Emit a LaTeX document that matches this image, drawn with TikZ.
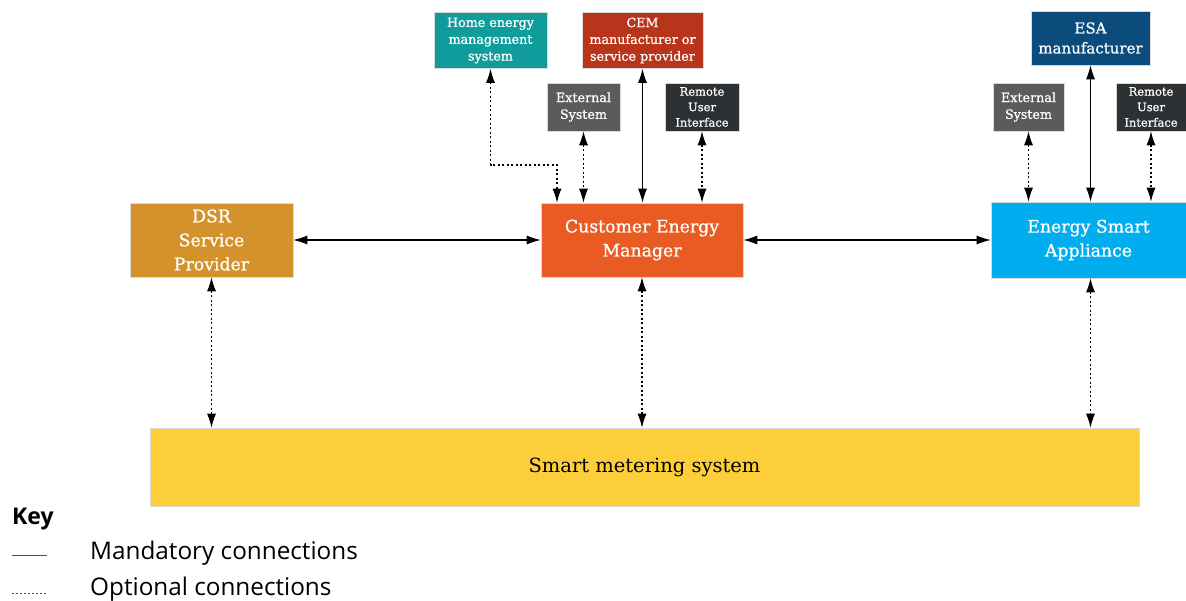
\documentclass[tikz,border=0pt]{standalone}
\usepackage{fontspec}
\setmainfont{DejaVu Serif}[BoldFont={DejaVu Serif},BoldFeatures={FakeBold=0.8}]
\setsansfont{Open Sans}
\usepackage{tikz}
\usetikzlibrary{positioning}
\usetikzlibrary{arrows.meta}
\definecolor{sarcelle}{HTML}{119C9C}
\definecolor{rouille}{HTML}{B8341A}
\definecolor{grisext}{HTML}{5B5B5B}
\definecolor{grisfonce}{HTML}{2E3133}
\definecolor{ocre}{HTML}{D4922C}
\definecolor{orangecem}{HTML}{E85C24}
\definecolor{cyanesa}{HTML}{00AEEF}
\definecolor{bleufab}{HTML}{0B4C7D}
\definecolor{jaunesms}{HTML}{FCCF3A}
\begin{document}
\begin{tikzpicture}[x=1pt,y=-1pt]
% définition des paramètres
\tikzstyle boite=[draw=white!85!black,line width=0.6pt,text=white,align=center,inner sep=2pt]
\tikzstyle petite=[boite,font=\bfseries\fontsize{12.7}{16.8}\selectfont]
\tikzstyle grande=[boite,font=\bfseries\fontsize{17.3}{24}\selectfont]
\tikzstyle plein=[line width=1.1pt,{Latex[length=14pt,width=9pt]}-{Latex[length=14pt,width=9pt]}]
\tikzstyle pointille=[plein,dash pattern=on 2pt off 2.5pt]
\tikzstyle cle=[font=\sffamily\fontsize{24.3}{28}\selectfont,anchor=west,inner sep=0pt]
% le cadre
\useasboundingbox (0,0) rectangle (1186,601);
% les boites du haut
\node[petite,fill=sarcelle,minimum width=113,minimum height=56] (hems) at (490.5,40.5) {Home energy\\management\\system};
\node[petite,fill=rouille,minimum width=121,minimum height=56] (cemfab) at (642.5,40.5) {CEM\\manufacturer or\\service provider};
\node[petite,fill=grisext,minimum width=73,minimum height=48] (extcem) at (583.5,107) {External\\System};
\node[petite,fill=grisfonce,minimum width=74,minimum height=48,font=\bfseries\fontsize{11.5}{15.5}\selectfont] (ruicem) at (702,107) {Remote\\User\\Interface};
\node[boite,fill=bleufab,minimum width=119,minimum height=54,font=\bfseries\fontsize{15}{20}\selectfont] (esafab) at (1090.5,38) {ESA\\manufacturer};
\node[petite,fill=grisext,minimum width=71,minimum height=48] (extesa) at (1028.5,107) {External\\System};
\node[petite,fill=grisfonce,minimum width=70,minimum height=48,font=\bfseries\fontsize{11.5}{15.5}\selectfont] (ruiesa) at (1151,107) {Remote\\User\\Interface};
% les boites du milieu
\node[grande,fill=ocre,minimum width=163,minimum height=74] (dsr) at (211.5,240) {DSR\\Service\\Provider};
\node[grande,fill=orangecem,minimum width=202,minimum height=74] (cem) at (642,240) {Customer Energy\\Manager};
\node[grande,fill=cyanesa,minimum width=195,minimum height=76] (esa) at (1088.5,240) {Energy Smart\\Appliance};
% le compteur
\node[boite,fill=jaunesms,text=black,minimum width=989,minimum height=78,font=\fontsize{19.5}{24}\selectfont] (sms) at (644.5,467) {Smart metering system};
% les liaisons
\draw[plein] (dsr) -- (cem);
\draw[plein] (cem) -- (esa);
\coordinate (coude) at (557,165);
\draw[pointille] (hems.south) |- (coude) -- (coude |- cem.north);
\draw[pointille] (extcem.south) -- (extcem.south |- cem.north);
\draw[plein] (cemfab.south) -- (cemfab.south |- cem.north);
\draw[pointille] (ruicem.south) -- (ruicem.south |- cem.north);
\draw[pointille] (extesa.south) -- (extesa.south |- esa.north);
\draw[plein] (esafab.south) -- (esafab.south |- esa.north);
\draw[pointille] (ruiesa.south) -- (ruiesa.south |- esa.north);
\draw[pointille] (dsr.south) -- (dsr.south |- sms.north);
\draw[pointille] (cem.south) -- (cem.south |- sms.north);
\draw[pointille] (esafab.south |- esa.south) -- (esafab.south |- sms.north);
% la légende
\node[cle,font=\sffamily\bfseries\fontsize{23}{28}\selectfont] (key) at (12,519) {Key};
\coordinate (m1) at (12,555);
\coordinate (m2) at (47,555);
\draw[line width=1pt,black!70] (m1) -- (m2);
\node[cle] (mand) at (90,553) {Mandatory connections};
\coordinate (o1) at (12,593);
\coordinate (o2) at (47,593);
\draw[line width=1pt,black!70,dash pattern=on 2pt off 2pt] (o1) -- (o2);
\node[cle] (opt) at (90,589) {Optional connections};
\end{tikzpicture}
\end{document}
